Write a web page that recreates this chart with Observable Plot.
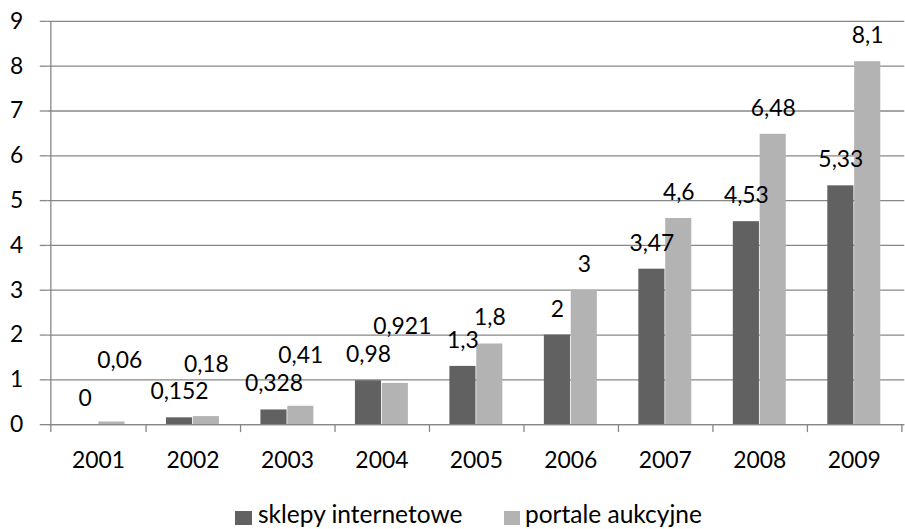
<!DOCTYPE html>
<html>
<head>
<meta charset="utf-8">
<script src="https://cdn.jsdelivr.net/npm/d3@7"></script>
<script src="https://cdn.jsdelivr.net/npm/@observablehq/plot@0.6"></script>
<style>
  html, body { margin: 0; padding: 0; background: #fff; overflow: hidden; }
  #wrap { position: relative; width: 905px; height: 529px; }
  #legend {
    position: absolute; left: 0; top: 0; width: 905px; height: 529px; pointer-events: none;
    font-family: Lato, "Open Sans", sans-serif; font-size: 24.5px; color: #000;
  }
  .sw { position: absolute; top: 511px; width: 16.5px; height: 14px; }
  .lbl { position: absolute; top: 500px; line-height: 28px; white-space: nowrap; }
</style>
</head>
<body>
<div id="wrap">
  <div id="chart"></div>
  <div id="legend"></div>
</div>
<script>
// Years and the two series (values in the same order as the years)
const years = ["2001", "2002", "2003", "2004", "2005", "2006", "2007", "2008", "2009"];
const seriesNames = ["sklepy internetowe", "portale aukcyjne"];
const sklepy = [0, 0.152, 0.328, 0.98, 1.3, 2, 3.47, 4.53, 5.33];
const portale = [0.06, 0.18, 0.41, 0.921, 1.8, 3, 4.6, 6.48, 8.1];
const yTicks = [0, 1, 2, 3, 4, 5, 6, 7, 8, 9];

const colors = ["#616161", "#b3b3b3"];
const gridColor = "#878787";

// Long-format table built from the arrays above
const rows = years.flatMap((year, i) => [
  {year, series: seriesNames[0], value: sklepy[i], s: 0},
  {year, series: seriesNames[1], value: portale[i], s: 1}
]);

// Polish decimal comma
const fmt = v => String(v).replace(".", ",");

// Layout
const width = 910, height = 480;
const marginLeft = 47.5, marginRight = 0.75, marginTop = 21, marginBottom = 53.5;
const step = (width - marginLeft - marginRight) / years.length;
const barW = 27;
const gap = (step - 2 * barW) / 2;   // empty space on each side of a bar pair
const plotH = height - marginTop - marginBottom;

// Hand-placed data labels (pixel nudges) where neighbours would collide
const nudge = {
  "1-2001": [8, -36],
  "1-2002": [0, -26],
  "1-2003": [0, -25],
  "1-2004": [7, -31]
};
const nudgeOf = d => nudge[d.s + "-" + d.year] || [0, 0];
const lblDx = d => (d.s === 0 ? -barW / 2 : barW / 2) + nudgeOf(d)[0];
const lblDy = d => -26 + nudgeOf(d)[1];

// Text marks take constant dx/dy, so each value label is its own mark
const labelMarks = rows.map(d => Plot.text([d], {
  x: "year", y: "value", text: r => fmt(r.value),
  dx: lblDx(d), dy: lblDy(d), fill: "#000"
}));

const chart = Plot.plot({
  width, height, marginLeft, marginRight, marginTop, marginBottom,
  style: {fontFamily: "Lato, 'Open Sans', sans-serif", fontSize: "23px", background: "#fff", overflow: "visible"},
  x: {domain: years, padding: 0, axis: null},
  y: {domain: [0, 9], axis: null},
  marks: [
    Plot.gridY(yTicks, {stroke: gridColor, strokeOpacity: 1, strokeWidth: 1.3}),
    Plot.axisY({ticks: yTicks, tickSize: 7.5, tickPadding: 17, stroke: gridColor, strokeWidth: 1.3, fill: "#000", tickFormat: d => String(d), label: null}),
    Plot.axisX({tickSize: 0, tickPadding: 27, fill: "#000", label: null}),
    // dark bar on the left half of each pair, light bar on the right half
    Plot.barY(rows.filter(d => d.s === 0), {x: "year", y: "value", fill: colors[0], insetLeft: gap, insetRight: gap + barW}),
    Plot.barY(rows.filter(d => d.s === 1), {x: "year", y: "value", fill: colors[1], insetLeft: gap + barW, insetRight: gap}),
    // baseline and left axis line
    Plot.ruleY([0], {stroke: gridColor, strokeWidth: 1.3}),
    Plot.ruleX([years[0]], {dx: -step / 2, stroke: gridColor, strokeWidth: 1.3, insetBottom: -8}),
    // category boundary ticks below the baseline
    Plot.ruleX(years, {dx: step / 2, stroke: gridColor, strokeWidth: 1.3, insetTop: plotH, insetBottom: -8}),
    ...labelMarks
  ]
});
document.getElementById("chart").appendChild(chart);

// Legend below the plot
const legendPos = [{sw: 235, text: 258}, {sw: 503.5, text: 525}];
const legend = document.getElementById("legend");
seriesNames.forEach((name, i) => {
  const sw = document.createElement("div");
  sw.className = "sw";
  sw.style.left = legendPos[i].sw + "px";
  sw.style.background = colors[i];
  const label = document.createElement("div");
  label.className = "lbl";
  label.style.left = legendPos[i].text + "px";
  label.textContent = name;
  legend.appendChild(sw);
  legend.appendChild(label);
});
</script>
</body>
</html>
